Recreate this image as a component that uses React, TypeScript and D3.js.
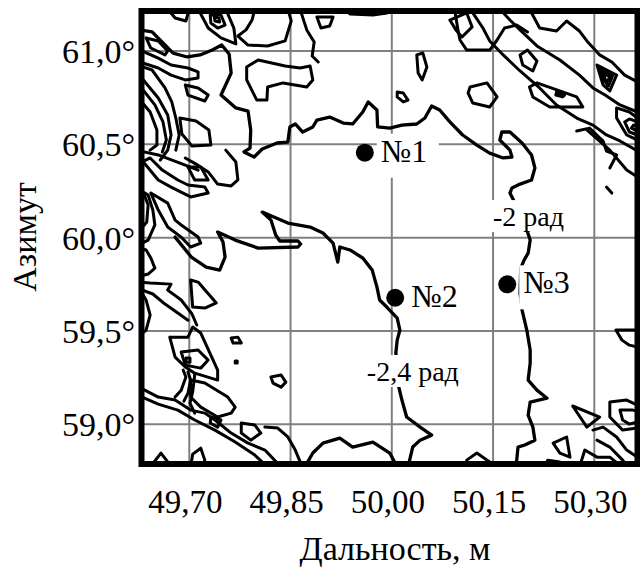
import React from 'react';
import * as d3 from 'd3';

type P = [number, number];

// ---- axis ticks ----
const xTicks = [49.7, 49.85, 50.0, 50.15, 50.3];
const xTickLabels = ['49,70', '49,85', '50,00', '50,15', '50,30'];
const yTicks = [59.0, 59.5, 60.0, 60.5, 61.0];
const yTickLabels = ['59,0°', '59,5°', '60,0°', '60,5°', '61,0°'];

// ---- targets (range m, azimuth deg) ----
const targetNames = ['№1', '№2', '№3'];
const targetRange = [49.96, 50.005, 50.171];
const targetAzimuth = [60.455, 59.678, 59.75];

// ---- phase contour labels ----
const phaseLabelText = ['-2 рад', '-2,4 рад'];
const phaseLabelRange = [50.15, 49.963];
const phaseLabelAzimuth = [60.062, 59.232];

// ---- main phase contours (range, azimuth) ----
const contourMinus2: P[] = [
  [49.627, 61.113], [49.645, 61.102], [49.661, 61.043], [49.676, 60.989], [49.697, 60.968],
  [49.716, 60.979], [49.734, 61.005], [49.748, 61.032], [49.759, 60.984], [49.762, 60.882],
  [49.747, 60.764], [49.769, 60.695], [49.787, 60.678], [49.791, 60.577], [49.79, 60.48],
  [49.781, 60.459], [49.796, 60.432], [49.808, 60.475], [49.83, 60.507], [49.846, 60.512],
  [49.849, 60.593], [49.857, 60.609], [49.868, 60.566], [49.883, 60.593], [49.889, 60.63],
  [49.908, 60.646], [49.928, 60.614], [49.942, 60.609], [49.957, 60.673], [49.965, 60.727],
  [49.978, 60.684], [49.979, 60.593], [49.997, 60.587], [50.015, 60.603], [50.037, 60.609],
  [50.049, 60.641], [50.059, 60.705], [50.071, 60.684], [50.086, 60.62], [50.105, 60.55],
  [50.126, 60.496], [50.145, 60.453], [50.165, 60.427], [50.178, 60.432], [50.175, 60.469],
  [50.16, 60.523], [50.163, 60.566], [50.175, 60.566], [50.193, 60.507], [50.207, 60.443],
  [50.212, 60.373], [50.207, 60.309], [50.19, 60.287], [50.178, 60.266], [50.175, 60.239],
  [50.184, 60.175], [50.193, 60.105], [50.2, 60.041], [50.205, 59.987], [50.202, 59.917],
  [50.196, 59.88], [50.191, 59.837], [50.19, 59.703], [50.193, 59.612], [50.2, 59.505],
  [50.205, 59.398], [50.205, 59.328], [50.202, 59.237], [50.215, 59.183], [50.23, 59.14],
  [50.205, 59.119], [50.202, 59.049], [50.209, 58.985], [50.212, 58.915], [50.197, 58.889],
  [50.187, 58.878], [50.184, 58.771],
];

const contourMinus24: P[] = [
  [49.679, 60.003], [49.703, 59.896], [49.725, 59.842], [49.745, 59.826], [49.753, 59.896],
  [49.75, 59.976], [49.742, 60.03], [49.768, 59.987], [49.802, 59.944], [49.861, 59.95],
  [49.865, 59.966], [49.861, 59.982], [49.834, 59.982], [49.828, 60.014], [49.821, 60.094],
  [49.808, 60.137], [49.846, 60.078], [49.879, 60.057], [49.898, 60.025], [49.913, 59.971],
  [49.92, 59.869], [49.923, 59.95], [49.938, 59.934], [49.957, 59.891], [49.971, 59.826],
  [49.978, 59.735], [49.982, 59.666], [49.994, 59.623], [50.008, 59.569], [50.012, 59.505],
  [50.008, 59.451], [50.006, 59.382], [50.008, 59.301], [50.009, 59.221], [50.015, 59.13],
  [50.022, 59.039], [50.042, 58.985], [50.059, 58.942], [50.042, 58.915], [50.031, 58.878],
  [50.024, 58.771],
];

const contourBottom: P[] = [
  [49.871, 58.771], [49.883, 58.846], [49.898, 58.899], [49.923, 58.926], [49.942, 58.878],
  [49.972, 58.905], [49.997, 58.846], [50.008, 58.771],
];

// ---- edge contours, upper-left ----
const contoursUpperLeft: P[][] = [
  [[49.627, 61.005], [49.654, 60.962], [49.673, 60.925], [49.698, 60.909], [49.713, 60.888], [49.713, 60.855], [49.694, 60.845], [49.673, 60.871], [49.654, 60.909], [49.627, 60.941]],
  [[49.636, 61.07], [49.654, 61.054], [49.668, 61.0], [49.664, 60.979], [49.643, 61.016], [49.636, 61.07]],
  [[49.668, 61.225], [49.679, 61.177], [49.695, 61.161], [49.7, 61.225]],
  [[49.713, 61.225], [49.728, 61.123], [49.747, 61.07], [49.769, 61.038], [49.766, 61.123], [49.754, 61.225]],
  [[49.731, 61.193], [49.747, 61.193], [49.753, 61.139], [49.742, 61.123], [49.732, 61.15], [49.731, 61.193]],
  [[49.737, 61.182], [49.744, 61.177], [49.745, 61.155], [49.738, 61.161], [49.737, 61.182]],
  [[49.694, 60.818], [49.713, 60.802], [49.728, 60.764], [49.723, 60.732], [49.698, 60.764], [49.694, 60.818]],
  [[49.686, 60.641], [49.71, 60.625], [49.729, 60.577], [49.732, 60.496], [49.704, 60.491], [49.689, 60.555], [49.686, 60.641]],
  [[49.627, 60.92], [49.645, 60.898], [49.664, 60.802], [49.674, 60.727], [49.68, 60.641], [49.685, 60.55], [49.68, 60.469]],
  [[49.627, 60.866], [49.654, 60.748], [49.668, 60.657], [49.673, 60.55], [49.668, 60.469], [49.657, 60.416]],
  [[49.627, 60.812], [49.649, 60.711], [49.661, 60.62], [49.666, 60.523], [49.66, 60.459]],
  [[49.627, 60.737], [49.642, 60.673], [49.652, 60.577], [49.652, 60.496], [49.642, 60.469]],
  [[49.627, 60.464], [49.654, 60.443], [49.694, 60.389], [49.713, 60.362]],
  [[49.754, 60.469], [49.769, 60.405], [49.772, 60.309], [49.762, 60.277], [49.742, 60.287], [49.728, 60.352], [49.71, 60.394], [49.694, 60.427]],
  [[49.627, 60.427], [49.654, 60.309], [49.673, 60.271], [49.702, 60.218], [49.728, 60.239], [49.723, 60.271], [49.698, 60.282], [49.683, 60.309], [49.66, 60.362], [49.642, 60.427], [49.627, 60.4]],
  [[49.643, 60.239], [49.668, 60.185], [49.679, 60.094], [49.688, 60.068], [49.713, 60.003], [49.717, 59.971], [49.702, 59.95], [49.688, 60.003], [49.668, 60.057], [49.654, 60.148], [49.643, 60.239]],
  [[49.627, 60.255], [49.639, 60.228], [49.646, 60.148], [49.649, 60.068], [49.639, 59.987], [49.627, 59.966]],
  [[49.627, 59.944], [49.636, 59.934], [49.643, 59.891], [49.649, 59.837], [49.639, 59.805], [49.627, 59.794]],
  [[49.698, 60.378], [49.717, 60.378], [49.728, 60.309], [49.708, 60.309], [49.698, 60.378]],
  [[49.627, 60.223], [49.634, 60.223], [49.639, 60.175], [49.637, 60.084], [49.627, 60.041]],
];

// ---- edge contours, lower-left ----
const contoursLowerLeft: P[][] = [
  [[49.627, 59.762], [49.642, 59.757], [49.673, 59.751], [49.668, 59.719], [49.688, 59.666], [49.704, 59.591], [49.711, 59.532]],
  [[49.627, 59.724], [49.646, 59.698], [49.664, 59.644], [49.683, 59.596], [49.698, 59.558]],
  [[49.627, 59.719], [49.636, 59.666], [49.642, 59.585], [49.636, 59.505], [49.627, 59.478]],
  [[49.671, 59.467], [49.698, 59.467], [49.705, 59.521], [49.717, 59.489], [49.742, 59.29], [49.742, 59.237], [49.708, 59.274], [49.694, 59.307], [49.679, 59.36], [49.671, 59.467]],
  [[49.688, 59.387], [49.713, 59.398], [49.728, 59.344], [49.717, 59.301], [49.694, 59.317], [49.688, 59.387]],
  [[49.695, 59.355], [49.701, 59.355], [49.701, 59.333], [49.695, 59.333], [49.695, 59.355]],
  [[49.702, 59.773], [49.713, 59.762], [49.74, 59.65], [49.723, 59.623], [49.705, 59.628], [49.702, 59.773]],
  [[49.702, 59.237], [49.723, 59.221], [49.757, 59.146], [49.768, 59.092], [49.762, 59.06], [49.742, 59.039], [49.717, 59.092], [49.702, 59.146], [49.702, 59.237]],
  [[49.732, 59.039], [49.747, 59.023], [49.742, 58.985], [49.731, 59.007], [49.732, 59.039]],
  [[49.777, 59.007], [49.797, 58.996], [49.806, 58.953], [49.791, 58.915], [49.777, 58.953], [49.777, 59.007]],
  [[49.812, 58.985], [49.831, 58.98], [49.846, 58.932], [49.857, 58.862], [49.865, 58.792], [49.867, 58.771]],
  [[49.762, 59.462], [49.772, 59.467], [49.777, 59.435], [49.765, 59.435], [49.762, 59.462]],
  [[49.768, 59.339], [49.771, 59.339], [49.771, 59.328], [49.768, 59.328], [49.768, 59.339]],
  [[49.821, 59.253], [49.836, 59.264], [49.843, 59.226], [49.836, 59.199], [49.824, 59.221], [49.821, 59.253]],
  [[49.642, 58.771], [49.658, 58.846], [49.674, 58.771]],
  [[49.702, 58.771], [49.705, 58.84], [49.717, 58.872], [49.723, 58.808], [49.72, 58.771]],
  [[49.627, 59.194], [49.634, 59.183], [49.654, 59.146], [49.679, 59.13], [49.702, 59.076], [49.723, 59.06], [49.738, 59.023], [49.762, 58.953], [49.787, 58.899], [49.812, 58.862], [49.836, 58.771]],
  [[49.627, 59.151], [49.654, 59.108], [49.683, 59.076], [49.708, 59.023], [49.738, 58.969], [49.768, 58.905], [49.797, 58.835], [49.816, 58.771]],
  [[49.691, 59.29], [49.695, 59.253], [49.688, 59.183], [49.679, 59.146]],
  [[49.698, 59.28], [49.702, 59.237], [49.698, 59.167], [49.692, 59.124]],
  [[49.708, 59.264], [49.705, 59.173], [49.701, 59.114], [49.708, 59.06]],
];

// ---- contours, top middle ----
const contoursTop: P[][] = [
  [[49.889, 61.182], [49.913, 61.182], [49.908, 61.134], [49.895, 61.123], [49.889, 61.182]],
  [[49.785, 60.914], [49.802, 60.952], [49.842, 60.92], [49.864, 60.909], [49.879, 60.92], [49.883, 60.845], [49.874, 60.807], [49.839, 60.829], [49.816, 60.807], [49.815, 60.737], [49.8, 60.737], [49.785, 60.845], [49.785, 60.914]],
  [[49.797, 61.225], [49.793, 61.166], [49.784, 61.113], [49.772, 61.08], [49.787, 61.032], [49.816, 61.027], [49.842, 61.054], [49.851, 61.161], [49.846, 61.225]],
  [[49.864, 61.225], [49.874, 61.113], [49.885, 61.048], [49.882, 60.973], [49.891, 60.941]],
  [[49.931, 61.225], [49.938, 61.198], [49.972, 61.193], [49.993, 61.204], [50.0, 61.225]],
];

// ---- contours, upper-right ----
const contoursUpperRight: P[][] = [
  [[50.086, 61.166], [50.111, 61.204], [50.119, 61.129], [50.104, 61.075], [50.095, 61.113], [50.086, 61.166]],
  [[50.093, 61.225], [50.098, 61.113], [50.101, 61.059], [50.111, 61.005], [50.145, 61.005], [50.156, 61.059], [50.167, 61.123], [50.185, 61.139], [50.201, 61.102]],
  [[50.116, 61.225], [50.123, 61.188], [50.135, 61.123], [50.145, 61.054], [50.165, 60.979], [50.19, 60.893], [50.219, 60.802], [50.244, 60.711], [50.274, 60.641], [50.298, 60.603], [50.318, 60.55], [50.338, 60.518], [50.364, 60.464]],
  [[50.16, 61.225], [50.175, 61.166], [50.19, 61.113], [50.215, 61.027], [50.249, 60.952], [50.278, 60.871], [50.298, 60.802], [50.316, 60.764], [50.338, 60.711], [50.364, 60.673]],
  [[50.204, 61.225], [50.219, 61.123], [50.244, 61.107], [50.259, 61.161], [50.278, 61.107], [50.289, 61.054], [50.308, 60.979], [50.326, 60.941], [50.345, 60.871], [50.364, 60.834]],
  [[50.204, 60.807], [50.215, 60.829], [50.274, 60.754], [50.283, 60.7], [50.234, 60.7], [50.209, 60.754], [50.204, 60.807]],
  [[50.244, 60.78], [50.256, 60.764], [50.253, 60.754], [50.243, 60.764], [50.244, 60.78]],
  [[50.19, 60.979], [50.201, 61.005], [50.215, 60.946], [50.209, 60.893], [50.194, 60.925], [50.19, 60.979]],
  [[50.037, 60.979], [50.046, 60.989], [50.052, 60.914], [50.045, 60.845], [50.039, 60.882], [50.037, 60.979]],
  [[50.008, 60.78], [50.017, 60.775], [50.024, 60.737], [50.017, 60.727], [50.008, 60.754], [50.008, 60.78]],
  [[50.116, 60.807], [50.141, 60.829], [50.156, 60.754], [50.145, 60.7], [50.12, 60.721], [50.113, 60.775], [50.116, 60.807]],
  [[50.304, 60.925], [50.333, 60.871], [50.323, 60.786], [50.313, 60.818], [50.304, 60.925]],
  [[50.308, 60.904], [50.327, 60.866], [50.321, 60.812], [50.314, 60.845], [50.308, 60.904]],
  [[50.313, 60.882], [50.323, 60.861], [50.318, 60.829], [50.313, 60.882]],
  [[50.364, 60.641], [50.352, 60.673], [50.333, 60.695], [50.333, 60.641], [50.348, 60.55], [50.364, 60.523]],
  [[50.364, 60.62], [50.352, 60.636], [50.345, 60.62], [50.352, 60.566], [50.364, 60.55]],
  [[50.364, 60.598], [50.358, 60.603], [50.355, 60.587], [50.364, 60.571]],
  [[50.274, 60.571], [50.293, 60.587], [50.313, 60.518], [50.318, 60.464], [50.333, 60.443], [50.323, 60.373]],
  [[50.289, 60.577], [50.323, 60.469], [50.348, 60.362], [50.364, 60.325]],
  [[50.318, 60.271], [50.326, 60.239]],
];

// ---- contours, lower-right ----
const contoursLowerRight: P[][] = [
  [[50.364, 59.505], [50.35, 59.505], [50.332, 59.505], [50.341, 59.451], [50.352, 59.424], [50.364, 59.414]],
  [[50.268, 59.098], [50.308, 59.039], [50.289, 58.985], [50.268, 59.098]],
  [[50.364, 59.103], [50.348, 59.13], [50.323, 59.119], [50.323, 59.039], [50.342, 58.969], [50.364, 58.98]],
  [[50.364, 59.071], [50.357, 59.076], [50.338, 59.076], [50.342, 59.023], [50.352, 59.001], [50.364, 59.012]],
  [[50.298, 58.969], [50.313, 58.985], [50.333, 58.932], [50.348, 58.862], [50.364, 58.824]],
  [[50.304, 58.915], [50.323, 58.878], [50.342, 58.808], [50.35, 58.771]],
  [[50.239, 58.899], [50.259, 58.932], [50.264, 58.824], [50.249, 58.846], [50.239, 58.899]],
  [[50.227, 58.771], [50.231, 58.808], [50.249, 58.798], [50.264, 58.771]],
  [[50.278, 58.771], [50.286, 58.862], [50.304, 58.824], [50.323, 58.824], [50.341, 58.771]],
  [[50.111, 58.771], [50.111, 58.808], [50.126, 58.846], [50.145, 58.798], [50.148, 58.771]],
];

const W = 640;
const H = 569;
const FONT = '"Liberation Serif", "Times New Roman", Times, "DejaVu Serif", serif';

export default function App() {
  const x = d3.scaleLinear().domain([49.7, 50.3]).range([189.3, 594.3]);
  const y = d3.scaleLinear().domain([59.0, 61.0]).range([424.3, 51]);
  const frame = { left: 141.5, top: 11, right: 637.5, bottom: 464 };
  const line = d3
    .line<P>()
    .x((d) => x(d[0]))
    .y((d) => y(d[1]));

  const mainLines = [contourMinus2, contourMinus24, contourBottom];
  const edgeLines = [
    ...contoursUpperLeft,
    ...contoursLowerLeft,
    ...contoursTop,
    ...contoursUpperRight,
    ...contoursLowerRight,
  ];

  const [x0, x1] = [frame.left, frame.right];
  const [y0, y1] = [frame.top, frame.bottom];

  return (
    <div style={{ position: 'fixed', left: 0, top: 0, width: W, height: H, background: '#fff' }}>
      <svg width={W} height={H} viewBox={`0 0 ${W} ${H}`} style={{ display: 'block' }}>
        <defs>
          <clipPath id="plotClip">
            <rect x={x0} y={y0} width={x1 - x0} height={y1 - y0} />
          </clipPath>
        </defs>
        <rect x={0} y={0} width={W} height={H} fill="#fff" />

        {/* grid */}
        <g stroke="#808080" strokeWidth={2}>
          {xTicks.map((t) => (
            <line key={'gx' + t} x1={x(t)} x2={x(t)} y1={y0} y2={y1} />
          ))}
          {yTicks.map((t) => (
            <line key={'gy' + t} x1={x0} x2={x1} y1={y(t)} y2={y(t)} />
          ))}
        </g>

        {/* contours */}
        <g clipPath="url(#plotClip)" fill="none" stroke="#000" strokeLinejoin="round" strokeLinecap="round">
          {edgeLines.map((c, i) => (
            <path key={'e' + i} d={line(c) || ''} strokeWidth={3} />
          ))}
          {mainLines.map((c, i) => (
            <path key={'m' + i} d={line(c) || ''} strokeWidth={3.3} />
          ))}
        </g>

        {/* phase labels */}
        {phaseLabelText.map((t, i) => {
          const lx = x(phaseLabelRange[i]);
          const ly = y(phaseLabelAzimuth[i]);
          const w = t.length > 6 ? 94 : 73;
          return (
            <g key={'pl' + i}>
              <rect x={lx - 4} y={ly - 26} width={w + 8} height={32} fill="#fff" />
              <text x={lx} y={ly} fontFamily={FONT} fontSize={28} fill="#000">
                {t}
              </text>
            </g>
          );
        })}

        {/* targets */}
        {targetNames.map((n, i) => {
          const cx = x(targetRange[i]);
          const cy = y(targetAzimuth[i]);
          const tx = cx + 16;
          const ty = cy + 9;
          return (
            <g key={'t' + i}>
              <rect x={tx - 4} y={ty - 28} width={62} height={44} fill="#fff" />
              <circle cx={cx} cy={cy} r={9} fill="#000" />
              <text x={tx} y={ty} fontFamily={FONT} fontSize={32} fill="#000">
                {n}
              </text>
            </g>
          );
        })}

        {/* frame */}
        <rect
          x={frame.left}
          y={frame.top}
          width={frame.right - frame.left}
          height={frame.bottom - frame.top}
          fill="none"
          stroke="#000"
          strokeWidth={6}
        />

        {/* tick labels */}
        {xTicks.map((t, i) => (
          <text key={'xt' + t} x={x(t) - 4} y={513} textAnchor="middle" fontFamily={FONT} fontSize={33} fill="#000">
            {xTickLabels[i]}
          </text>
        ))}
        {yTicks.map((t, i) => (
          <text key={'yt' + t} x={135} y={y(t) + 12} textAnchor="end" fontFamily={FONT} fontSize={34} fill="#000">
            {yTickLabels[i]}
          </text>
        ))}

        {/* axis titles */}
        <text x={395} y={560} textAnchor="middle" fontFamily={FONT} fontSize={34} fill="#000">
          Дальность, м
        </text>
        <text
          transform={`translate(36, 237) rotate(-90)`}
          textAnchor="middle"
          fontFamily={FONT}
          fontSize={34}
          fill="#000"
        >
          Азимут
        </text>
      </svg>
    </div>
  );
}
